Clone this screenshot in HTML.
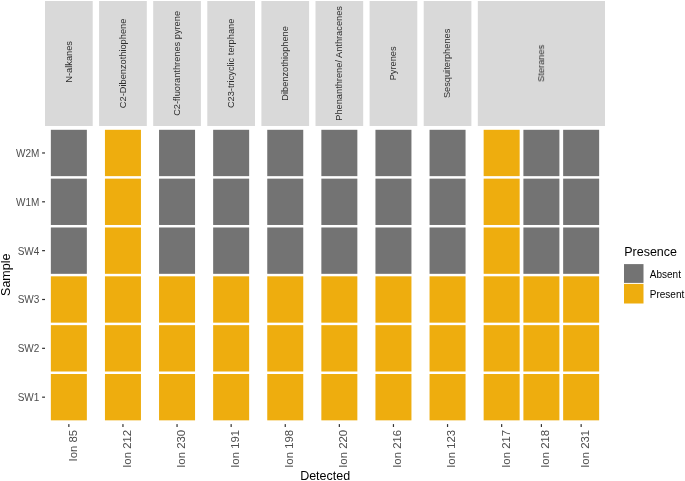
<!DOCTYPE html>
<html><head><meta charset="utf-8"><title>Presence chart</title>
<style>html,body{margin:0;padding:0;background:#fff;overflow:hidden}</style></head>
<body>
<svg width="685" height="481" viewBox="0 0 685 481" style="display:block;font-family:'Liberation Sans',sans-serif">
<rect width="685" height="481" fill="#fff"/>
<rect x="45.00" y="1.0" width="47.70" height="125.0" fill="#D9D9D9"/>
<rect x="50.85" y="129.80" width="36.0" height="46.34" fill="#737373"/>
<rect x="50.85" y="178.64" width="36.0" height="46.34" fill="#737373"/>
<rect x="50.85" y="227.48" width="36.0" height="46.34" fill="#737373"/>
<rect x="50.85" y="276.32" width="36.0" height="46.34" fill="#EEAD0E"/>
<rect x="50.85" y="325.16" width="36.0" height="46.34" fill="#EEAD0E"/>
<rect x="50.85" y="374.00" width="36.0" height="46.34" fill="#EEAD0E"/>
<rect x="68.25" y="424.1" width="1.2" height="2.9" fill="#333"/>
<rect x="99.10" y="1.0" width="47.70" height="125.0" fill="#D9D9D9"/>
<rect x="104.95" y="129.80" width="36.0" height="46.34" fill="#EEAD0E"/>
<rect x="104.95" y="178.64" width="36.0" height="46.34" fill="#EEAD0E"/>
<rect x="104.95" y="227.48" width="36.0" height="46.34" fill="#EEAD0E"/>
<rect x="104.95" y="276.32" width="36.0" height="46.34" fill="#EEAD0E"/>
<rect x="104.95" y="325.16" width="36.0" height="46.34" fill="#EEAD0E"/>
<rect x="104.95" y="374.00" width="36.0" height="46.34" fill="#EEAD0E"/>
<rect x="122.35" y="424.1" width="1.2" height="2.9" fill="#333"/>
<rect x="153.20" y="1.0" width="47.70" height="125.0" fill="#D9D9D9"/>
<rect x="159.05" y="129.80" width="36.0" height="46.34" fill="#737373"/>
<rect x="159.05" y="178.64" width="36.0" height="46.34" fill="#737373"/>
<rect x="159.05" y="227.48" width="36.0" height="46.34" fill="#737373"/>
<rect x="159.05" y="276.32" width="36.0" height="46.34" fill="#EEAD0E"/>
<rect x="159.05" y="325.16" width="36.0" height="46.34" fill="#EEAD0E"/>
<rect x="159.05" y="374.00" width="36.0" height="46.34" fill="#EEAD0E"/>
<rect x="176.45" y="424.1" width="1.2" height="2.9" fill="#333"/>
<rect x="207.30" y="1.0" width="47.70" height="125.0" fill="#D9D9D9"/>
<rect x="213.15" y="129.80" width="36.0" height="46.34" fill="#737373"/>
<rect x="213.15" y="178.64" width="36.0" height="46.34" fill="#737373"/>
<rect x="213.15" y="227.48" width="36.0" height="46.34" fill="#737373"/>
<rect x="213.15" y="276.32" width="36.0" height="46.34" fill="#EEAD0E"/>
<rect x="213.15" y="325.16" width="36.0" height="46.34" fill="#EEAD0E"/>
<rect x="213.15" y="374.00" width="36.0" height="46.34" fill="#EEAD0E"/>
<rect x="230.55" y="424.1" width="1.2" height="2.9" fill="#333"/>
<rect x="261.40" y="1.0" width="47.70" height="125.0" fill="#D9D9D9"/>
<rect x="267.25" y="129.80" width="36.0" height="46.34" fill="#737373"/>
<rect x="267.25" y="178.64" width="36.0" height="46.34" fill="#737373"/>
<rect x="267.25" y="227.48" width="36.0" height="46.34" fill="#737373"/>
<rect x="267.25" y="276.32" width="36.0" height="46.34" fill="#EEAD0E"/>
<rect x="267.25" y="325.16" width="36.0" height="46.34" fill="#EEAD0E"/>
<rect x="267.25" y="374.00" width="36.0" height="46.34" fill="#EEAD0E"/>
<rect x="284.65" y="424.1" width="1.2" height="2.9" fill="#333"/>
<rect x="315.50" y="1.0" width="47.70" height="125.0" fill="#D9D9D9"/>
<rect x="321.35" y="129.80" width="36.0" height="46.34" fill="#737373"/>
<rect x="321.35" y="178.64" width="36.0" height="46.34" fill="#737373"/>
<rect x="321.35" y="227.48" width="36.0" height="46.34" fill="#737373"/>
<rect x="321.35" y="276.32" width="36.0" height="46.34" fill="#EEAD0E"/>
<rect x="321.35" y="325.16" width="36.0" height="46.34" fill="#EEAD0E"/>
<rect x="321.35" y="374.00" width="36.0" height="46.34" fill="#EEAD0E"/>
<rect x="338.75" y="424.1" width="1.2" height="2.9" fill="#333"/>
<rect x="369.60" y="1.0" width="47.70" height="125.0" fill="#D9D9D9"/>
<rect x="375.45" y="129.80" width="36.0" height="46.34" fill="#737373"/>
<rect x="375.45" y="178.64" width="36.0" height="46.34" fill="#737373"/>
<rect x="375.45" y="227.48" width="36.0" height="46.34" fill="#737373"/>
<rect x="375.45" y="276.32" width="36.0" height="46.34" fill="#EEAD0E"/>
<rect x="375.45" y="325.16" width="36.0" height="46.34" fill="#EEAD0E"/>
<rect x="375.45" y="374.00" width="36.0" height="46.34" fill="#EEAD0E"/>
<rect x="392.85" y="424.1" width="1.2" height="2.9" fill="#333"/>
<rect x="423.70" y="1.0" width="47.70" height="125.0" fill="#D9D9D9"/>
<rect x="429.55" y="129.80" width="36.0" height="46.34" fill="#737373"/>
<rect x="429.55" y="178.64" width="36.0" height="46.34" fill="#737373"/>
<rect x="429.55" y="227.48" width="36.0" height="46.34" fill="#737373"/>
<rect x="429.55" y="276.32" width="36.0" height="46.34" fill="#EEAD0E"/>
<rect x="429.55" y="325.16" width="36.0" height="46.34" fill="#EEAD0E"/>
<rect x="429.55" y="374.00" width="36.0" height="46.34" fill="#EEAD0E"/>
<rect x="446.95" y="424.1" width="1.2" height="2.9" fill="#333"/>
<rect x="477.80" y="1.0" width="127.20" height="125.0" fill="#D9D9D9"/>
<rect x="483.65" y="129.80" width="36.0" height="46.34" fill="#EEAD0E"/>
<rect x="483.65" y="178.64" width="36.0" height="46.34" fill="#EEAD0E"/>
<rect x="483.65" y="227.48" width="36.0" height="46.34" fill="#EEAD0E"/>
<rect x="483.65" y="276.32" width="36.0" height="46.34" fill="#EEAD0E"/>
<rect x="483.65" y="325.16" width="36.0" height="46.34" fill="#EEAD0E"/>
<rect x="483.65" y="374.00" width="36.0" height="46.34" fill="#EEAD0E"/>
<rect x="501.05" y="424.1" width="1.2" height="2.9" fill="#333"/>
<rect x="523.40" y="129.80" width="36.0" height="46.34" fill="#737373"/>
<rect x="523.40" y="178.64" width="36.0" height="46.34" fill="#737373"/>
<rect x="523.40" y="227.48" width="36.0" height="46.34" fill="#737373"/>
<rect x="523.40" y="276.32" width="36.0" height="46.34" fill="#EEAD0E"/>
<rect x="523.40" y="325.16" width="36.0" height="46.34" fill="#EEAD0E"/>
<rect x="523.40" y="374.00" width="36.0" height="46.34" fill="#EEAD0E"/>
<rect x="540.80" y="424.1" width="1.2" height="2.9" fill="#333"/>
<rect x="563.15" y="129.80" width="36.0" height="46.34" fill="#737373"/>
<rect x="563.15" y="178.64" width="36.0" height="46.34" fill="#737373"/>
<rect x="563.15" y="227.48" width="36.0" height="46.34" fill="#737373"/>
<rect x="563.15" y="276.32" width="36.0" height="46.34" fill="#EEAD0E"/>
<rect x="563.15" y="325.16" width="36.0" height="46.34" fill="#EEAD0E"/>
<rect x="563.15" y="374.00" width="36.0" height="46.34" fill="#EEAD0E"/>
<rect x="580.55" y="424.1" width="1.2" height="2.9" fill="#333"/>
<rect x="42.1" y="152.37" width="2.9" height="1.2" fill="#333"/>
<rect x="42.1" y="201.21" width="2.9" height="1.2" fill="#333"/>
<rect x="42.1" y="250.05" width="2.9" height="1.2" fill="#333"/>
<rect x="42.1" y="298.89" width="2.9" height="1.2" fill="#333"/>
<rect x="42.1" y="347.73" width="2.9" height="1.2" fill="#333"/>
<rect x="42.1" y="396.57" width="2.9" height="1.2" fill="#333"/>
<rect x="624" y="264.1" width="19.5" height="18.8" fill="#737373"/>
<rect x="624" y="283.9" width="19.5" height="19.6" fill="#EEAD0E"/>
<g opacity="0.999">
<text transform="translate(71.55,61.85) rotate(-90)" text-anchor="middle" font-size="9.25" fill="#2E2E2E">N-alkanes</text>
<text transform="translate(76.75,429.8) rotate(-90)" text-anchor="end" font-size="11.4" fill="#4D4D4D">Ion 85</text>
<text transform="translate(125.65,63.40) rotate(-90)" text-anchor="middle" font-size="9.25" fill="#2E2E2E">C2-Dibenzothiophene</text>
<text transform="translate(130.85,429.8) rotate(-90)" text-anchor="end" font-size="11.4" fill="#4D4D4D">Ion 212</text>
<text transform="translate(179.75,63.40) rotate(-90)" text-anchor="middle" font-size="9.25" fill="#2E2E2E">C2-fluoranthrenes pyrene</text>
<text transform="translate(184.95,429.8) rotate(-90)" text-anchor="end" font-size="11.4" fill="#4D4D4D">Ion 230</text>
<text transform="translate(233.85,63.40) rotate(-90)" text-anchor="middle" font-size="9.25" fill="#2E2E2E">C23-tricyclic terphane</text>
<text transform="translate(239.05,429.8) rotate(-90)" text-anchor="end" font-size="11.4" fill="#4D4D4D">Ion 191</text>
<text transform="translate(287.95,63.40) rotate(-90)" text-anchor="middle" font-size="9.25" fill="#2E2E2E">Dibenzothiophene</text>
<text transform="translate(293.15,429.8) rotate(-90)" text-anchor="end" font-size="11.4" fill="#4D4D4D">Ion 198</text>
<text transform="translate(342.05,63.40) rotate(-90)" text-anchor="middle" font-size="9.25" fill="#2E2E2E">Phenanthrene/ Anthracenes</text>
<text transform="translate(347.25,429.8) rotate(-90)" text-anchor="end" font-size="11.4" fill="#4D4D4D">Ion 220</text>
<text transform="translate(396.15,63.40) rotate(-90)" text-anchor="middle" font-size="9.25" fill="#2E2E2E">Pyrenes</text>
<text transform="translate(401.35,429.8) rotate(-90)" text-anchor="end" font-size="11.4" fill="#4D4D4D">Ion 216</text>
<text transform="translate(450.25,63.40) rotate(-90)" text-anchor="middle" font-size="9.25" fill="#2E2E2E">Sesquiterphenes</text>
<text transform="translate(455.45,429.8) rotate(-90)" text-anchor="end" font-size="11.4" fill="#4D4D4D">Ion 123</text>
<text transform="translate(544.10,63.40) rotate(-90)" text-anchor="middle" font-size="9.25" fill="#2E2E2E">Steranes</text>
<text transform="translate(509.55,429.8) rotate(-90)" text-anchor="end" font-size="11.4" fill="#4D4D4D">Ion 217</text>
<text transform="translate(549.30,429.8) rotate(-90)" text-anchor="end" font-size="11.4" fill="#4D4D4D">Ion 218</text>
<text transform="translate(589.05,429.8) rotate(-90)" text-anchor="end" font-size="11.4" fill="#4D4D4D">Ion 231</text>
<text x="39.3" y="156.87" text-anchor="end" font-size="10" fill="#4D4D4D">W2M</text>
<text x="39.3" y="205.71" text-anchor="end" font-size="10" fill="#4D4D4D">W1M</text>
<text x="39.3" y="254.55" text-anchor="end" font-size="10" fill="#4D4D4D">SW4</text>
<text x="39.3" y="303.39" text-anchor="end" font-size="10" fill="#4D4D4D">SW3</text>
<text x="39.3" y="352.23" text-anchor="end" font-size="10" fill="#4D4D4D">SW2</text>
<text x="39.3" y="401.07" text-anchor="end" font-size="10" fill="#4D4D4D">SW1</text>
<text transform="translate(9.9,274.75) rotate(-90)" text-anchor="middle" font-size="12.5" fill="#000">Sample</text>
<text x="325.15" y="479.8" text-anchor="middle" font-size="12.5" fill="#000">Detected</text>
<text x="624.2" y="256.4" font-size="12.5" fill="#000">Presence</text>
<text x="649.8" y="278.2" font-size="10" fill="#000">Absent</text>
<text x="649.8" y="298.25" font-size="10" fill="#000">Present</text>
</g>
</svg>
</body></html>
